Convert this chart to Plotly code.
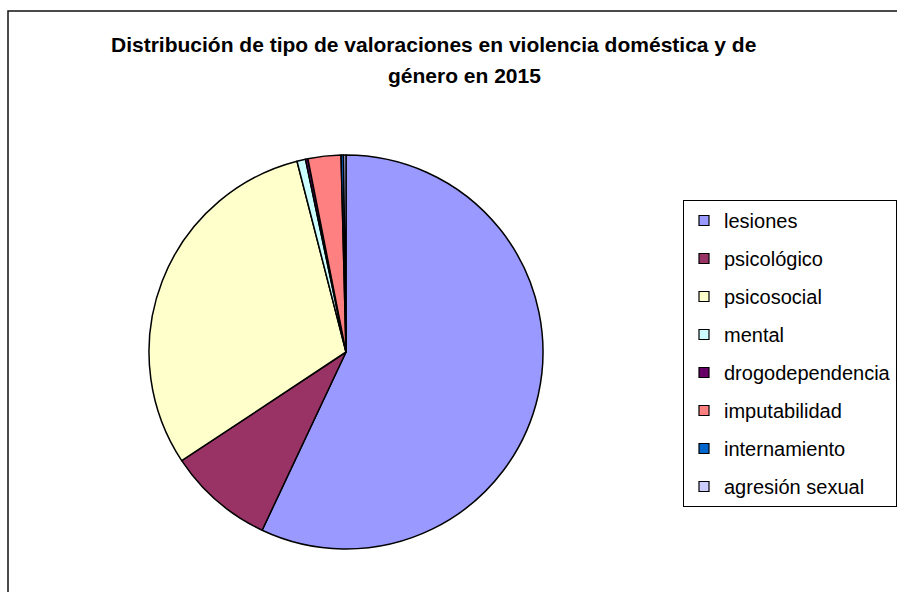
import plotly.graph_objects as go

# ---- data ----
labels = ["lesiones", "psicológico", "psicosocial", "mental",
          "drogodependencia", "imputabilidad", "internamiento", "agresión sexual"]
values = [57.0, 8.7, 30.3, 0.7, 0.2, 2.7, 0.2, 0.2]
colors = ["#9999FF", "#993366", "#FFFFCC", "#CCFFFF",
          "#660066", "#FF8080", "#0066CC", "#CCCCFF"]
title_line1 = "Distribución de tipo de valoraciones en violencia doméstica y de"
title_line2 = "género en 2015"

W, H = 897, 592
FONT = "Arial, Liberation Sans, sans-serif"

fig = go.Figure()

# pie centred at (346, 352) px, radius 197 px
cx, cy, r = 346, 352, 197
fig.add_trace(go.Pie(
    labels=labels, values=values, sort=False, direction="clockwise", rotation=0,
    marker=dict(colors=colors, line=dict(color="black", width=1.5)),
    textinfo="none", hoverinfo="label+percent", showlegend=False,
    domain=dict(x=[(cx - r) / W, (cx + r) / W], y=[1 - (cy + r) / H, 1 - (cy - r) / H]),
))

# legend entries (one per category, drawn by the legend)
for lab, col in zip(labels, colors):
    fig.add_trace(go.Scatter(
        x=[None], y=[None], mode="markers", name=lab, legendgroup=lab,
        marker=dict(symbol="square", size=10, color=col, line=dict(color="black", width=1.2)),
        showlegend=True, hoverinfo="skip",
    ))

fig.update_layout(
    width=W, height=H,
    margin=dict(l=0, r=0, t=0, b=0),
    paper_bgcolor="white", plot_bgcolor="white",
    xaxis=dict(visible=False), yaxis=dict(visible=False),
    legend=dict(
        x=683 / W, y=1 - 200 / H, xanchor="left", yanchor="top",
        bgcolor="white", bordercolor="black", borderwidth=1,
        font=dict(family=FONT, size=20, color="black"),
        traceorder="grouped", tracegroupgap=9, itemsizing="trace",
        entrywidth=215, entrywidthmode="pixels",
    ),
    shapes=[dict(type="rect", xref="paper", yref="paper",
                 x0=8 / W, x1=1.02, y0=-0.02, y1=1 - 11 / H,
                 line=dict(color="#111111", width=1.5), layer="below")],
    annotations=[
        dict(text="<b>" + title_line1 + "</b>", x=433 / W, y=1 - 45 / H, xref="paper", yref="paper",
             xanchor="center", yanchor="middle", showarrow=False,
             font=dict(family=FONT, size=21, color="black")),
        dict(text="<b>" + title_line2 + "</b>", x=464 / W, y=1 - 75 / H, xref="paper", yref="paper",
             xanchor="center", yanchor="middle", showarrow=False,
             font=dict(family=FONT, size=21, color="black")),
    ],
)

fig.write_html("out.html", config={"displayModeBar": False},
               post_script="document.body.style.margin='0';document.body.style.overflow='hidden';")
